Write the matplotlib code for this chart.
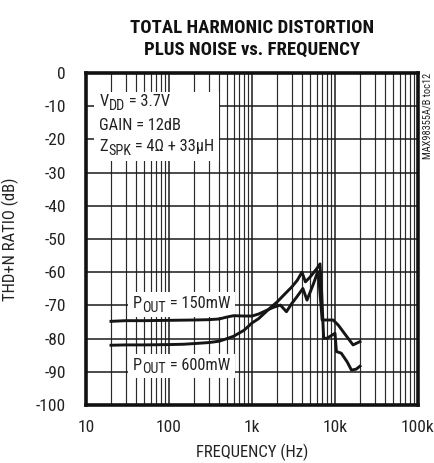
import matplotlib
matplotlib.use("Agg")
import matplotlib.pyplot as plt
from matplotlib.ticker import FixedLocator, LogLocator, NullFormatter
from matplotlib.patches import Rectangle
from matplotlib.transforms import Bbox
from matplotlib import font_manager

names = {f.name for f in font_manager.fontManager.ttflist}
FONT = next((n for n in ['Roboto Condensed', 'Archivo Narrow', 'PT Sans Narrow',
                         'Liberation Sans Narrow', 'Liberation Sans'] if n in names), 'DejaVu Sans')
plt.rcParams['font.family'] = [FONT, 'DejaVu Sans']

# Data
f_150 = [20, 30, 50, 100, 200, 300, 400, 500, 600, 800, 1000, 1200, 1500, 1800,
         2200, 2600, 3000, 3500, 4100, 4600, 5500, 6200, 6400, 7000, 8000, 9500,
         11000, 13500, 16500, 20000]
thd_150 = [-74.8, -74.6, -74.6, -74.5, -74.4, -74.3, -74.1, -73.5, -73.1, -73.2, -73.2,
           -72.6, -71.5, -70.6, -69.9, -71.9, -69.5, -67.3, -64.9, -68.4, -63.5, -59.8,
           -62.0, -74.4, -74.4, -74.4, -76.0, -79.0, -81.9, -80.9]

f_600 = [20, 30, 50, 100, 150, 200, 300, 400, 500, 600, 800, 1000, 1200, 1650, 2000,
         2500, 3000, 3500, 4000, 4400, 5000, 6000, 6600, 6900, 7300, 8000, 10000,
         10400, 11900, 14000, 15800, 18000, 20000]
thd_600 = [-82.0, -81.9, -81.9, -81.8, -81.7, -81.5, -81.2, -80.8, -80.0, -79.3, -77.5,
           -75.3, -74.0, -70.8, -69.0, -66.5, -64.5, -62.5, -60.0, -62.9, -61.5, -59.0,
           -57.5, -66.0, -79.9, -79.9, -78.4, -83.9, -84.4, -87.0, -89.5, -89.2, -88.3]

yticks = [0, -10, -20, -30, -40, -50, -60, -70, -80, -90, -100]
xticks = [10, 100, 1000, 10000, 100000]
xticklabels = ["10", "100", "1k", "10k", "100k"]

TC = '#222222'
FS = 12.5   # tick labels
AFS = 11.8  # annotations

fig = plt.figure(figsize=(4.35, 4.63), dpi=100)
ax = fig.add_axes([86/435, 1-405/463, (418-86)/435, (405-73)/463])
ax.set_xscale('log')
ax.set_xlim(10, 100000)
ax.set_ylim(-100, 0)

ax.xaxis.set_major_locator(FixedLocator(xticks))
ax.set_xticklabels(xticklabels)
ax.xaxis.set_minor_locator(LogLocator(base=10, subs=range(2, 10), numticks=20))
ax.xaxis.set_minor_formatter(NullFormatter())
ax.set_yticks(yticks)
ax.set_yticklabels([str(v) for v in yticks])

ax.grid(True, which='major', color='#1a1a1a', lw=1.1, zorder=1)
ax.grid(True, which='minor', axis='x', color='#2a2a2a', lw=0.85, zorder=1)
ax.set_axisbelow(True)
ax.tick_params(which='both', length=0, labelsize=FS, colors=TC)
ax.tick_params(axis='y', pad=14.5)
ax.tick_params(axis='x', pad=11)
for s in ax.spines.values():
    s.set_linewidth(2.6)
    s.set_color('#111111')
    s.set_zorder(6)

ax.plot(f_150, thd_150, color='#151515', lw=2.1, zorder=5, solid_joinstyle='round')
ax.plot(f_600, thd_600, color='#151515', lw=2.1, zorder=5, solid_joinstyle='round')


def sub_label(x, y, main, sub, rest):
    t1 = ax.text(x, y, main, fontsize=AFS, va='baseline', ha='left', color=TC, zorder=4)
    t2 = ax.annotate(sub, xy=(1, 0), xycoords=t1, xytext=(0.1, -2.4),
                     textcoords='offset points', fontsize=AFS * 0.86, va='bottom',
                     ha='left', color=TC, zorder=4)
    t3 = ax.annotate(rest, xy=(1, 0), xycoords=t2, xytext=(0, 2.4),
                     textcoords='offset points', fontsize=AFS, va='bottom', ha='left',
                     color=TC, zorder=4)
    return [t1, t2, t3]


g1 = sub_label(14.46, -10.0, "V", "DD", " = 3.7V")
g1.append(ax.text(14.46, -17.1, "GAIN = 12dB", fontsize=AFS, va='baseline', ha='left',
                  color=TC, zorder=4))
g1 += sub_label(14.46, -23.6, "Z", "SPK", " = 4\u03a9 + 33\u03bcH")
g2 = sub_label(36.8, -70.9, "P", "OUT", " = 150mW")
g3 = sub_label(36.8, -89.5, "P", "OUT", " = 600mW")

ax.set_xlabel("FREQUENCY (Hz)", fontsize=12, labelpad=6, color=TC)
ax.set_ylabel("THD+N RATIO (dB)", fontsize=12, labelpad=12, color=TC)

fig.text(252/435, 1-39/463, "TOTAL HARMONIC DISTORTION\nPLUS NOISE vs. FREQUENCY",
         ha='center', va='center', fontsize=13.5, fontweight='heavy', linespacing=1.3,
         color='#111111')
fig.text(428/435, 1-73/463, "MAX98355A/B toc12", rotation=90, ha='center', va='top',
         fontsize=7.5, color=TC)

# white backgrounds sized to the label text
fig.canvas.draw()
r = fig.canvas.get_renderer()
inv = ax.transData.inverted()
for grp, (px, pt, pb) in [(g1, (5, 2, 3)), (g2, (5, 4, 2)), (g3, (5, 4, 2))]:
    bb = Bbox.union([t.get_window_extent(r) for t in grp])
    (x0, y0), (x1, y1) = inv.transform([(bb.x0 - px, bb.y0 - pb), (bb.x1 + px, bb.y1 + pt)])
    ax.add_patch(Rectangle((x0, y0), x1 - x0, y1 - y0, facecolor='white',
                           edgecolor='none', zorder=3))

fig.savefig("out.png", dpi=100)
